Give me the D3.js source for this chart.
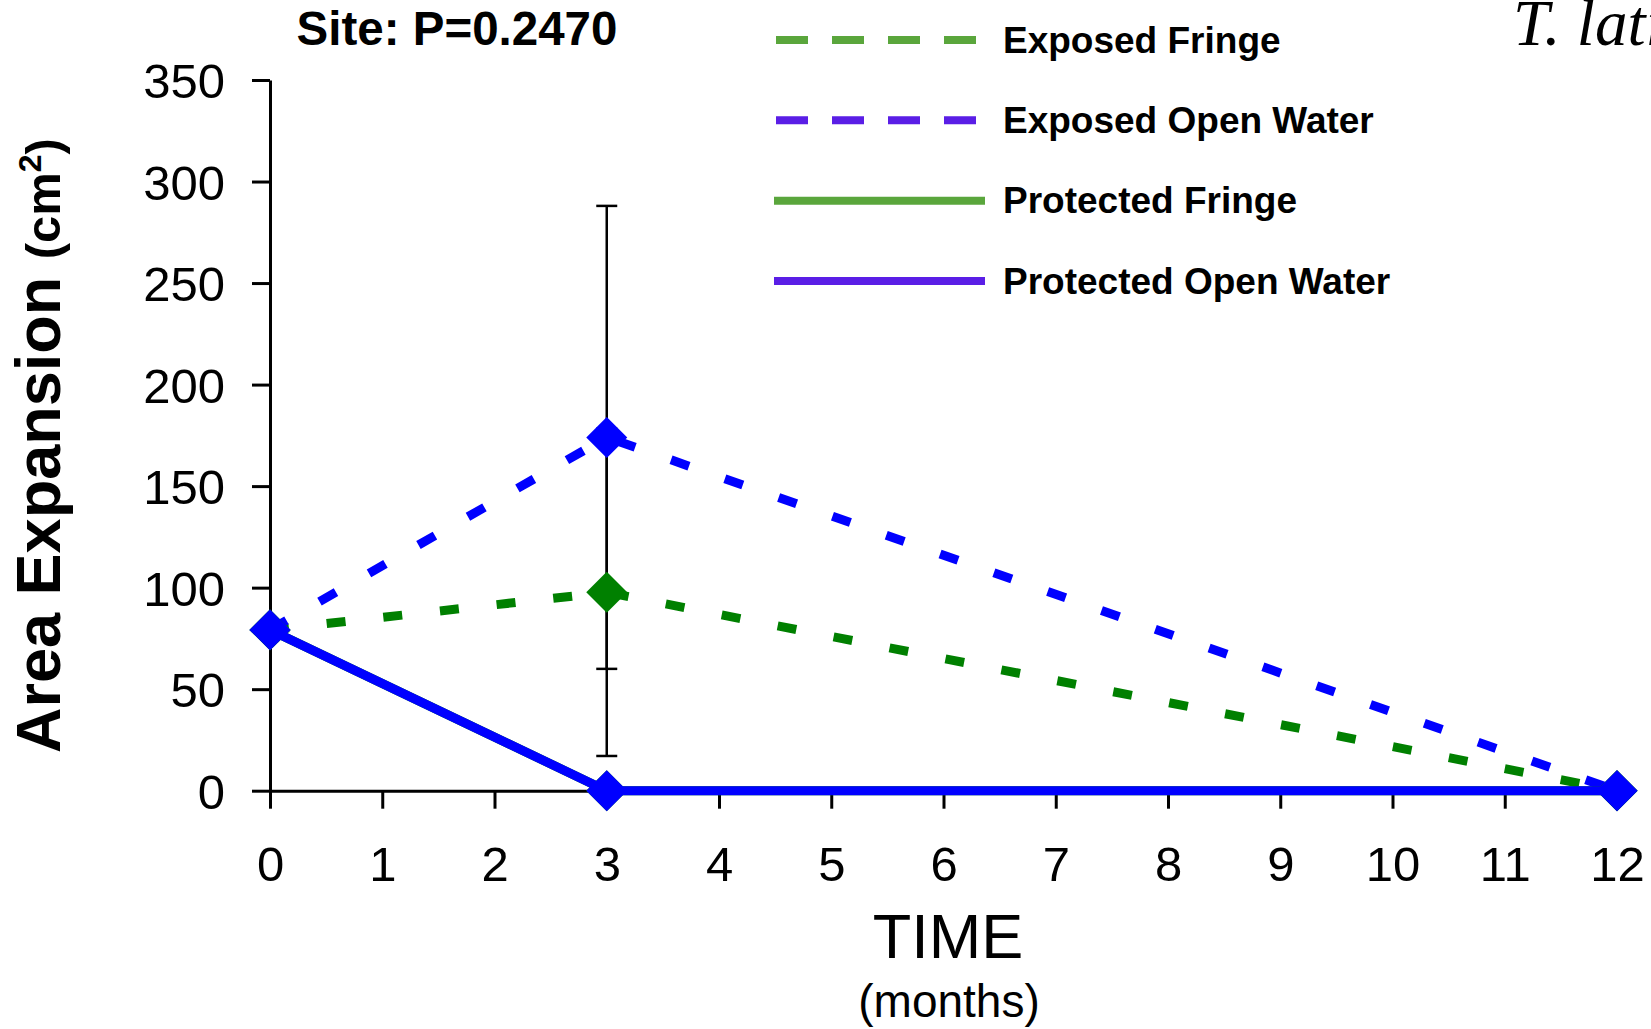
<!DOCTYPE html>
<html lang="en">
<head>
<title>Area expansion over time</title>
<meta charset="utf-8">
<script src="https://d3js.org/d3.v7.min.js"></script>
<style type="text/css">
body {
	margin: 0;
	background: #fff;
	font-family: "Liberation Sans", Arial, sans-serif;
}
#vis svg {
	display: block;
}
</style>
</head>
<body>

<div id="vis"></div>

<script>

/* Data */
/* ==== */

var months = [0, 3, 12];
var xTicks = [0, 1, 2, 3, 4, 5, 6, 7, 8, 9, 10, 11, 12];
var yTicks = [0, 50, 100, 150, 200, 250, 300, 350];

var seriesNames = ['Exposed Fringe', 'Exposed Open Water', 'Protected Fringe', 'Protected Open Water'];
var exposedFringe = [79.2, 97.7, 0];
var exposedOpenWater = [79.2, 174, 0];
var protectedFringe = [79.2, 0, 0];
var protectedOpenWater = [79.2, 0, 0];

// standard errors (only shown at month 3)
var exposedFringeErr = [null, 80.6, null];
var exposedOpenWaterErr = [null, 114, null];

var titleText = 'Site: P=0.2470';
var speciesText = 'T. latifolia';


/* Globals and SVG */
/* =============== */

var width = 1651,
		height = 1029;

var svg = d3.select('#vis')
	.append('svg')
		.attr('width', width)
		.attr('height', height);

var x = d3.scaleLinear().domain([0, 12]).range([270, 1617]);
var y = d3.scaleLinear().domain([0, 350]).range([790.7, 80]);

var styles = {
	'Exposed Fringe':       { line: '#008000', marker: '#008000', legend: '#5aa63c', dash: '19 38', legendDash: '32 24' },
	'Exposed Open Water':   { line: '#0000ff', marker: '#0000ff', legend: '#5a1ee6', dash: '19 38', legendDash: '32 24' },
	'Protected Fringe':     { line: '#008000', marker: '#008000', legend: '#5aa63c', dash: null, legendDash: null },
	'Protected Open Water': { line: '#0000ff', marker: '#0000ff', legend: '#5a1ee6', dash: null, legendDash: null }
};

var series = [
	{ name: seriesNames[0], values: exposedFringe, err: exposedFringeErr },
	{ name: seriesNames[1], values: exposedOpenWater, err: exposedOpenWaterErr },
	{ name: seriesNames[2], values: protectedFringe, err: null },
	{ name: seriesNames[3], values: protectedOpenWater, err: null }
];


/* Axes */
/* ==== */

var xAxis = svg.append('g')
	.attr('transform', 'translate(0,' + y(0) + ')')
	.call(d3.axisBottom(x).tickValues(xTicks).tickSize(18).tickSizeOuter(0).tickPadding(36));

var yAxis = svg.append('g')
	.attr('transform', 'translate(' + x(0) + ',0)')
	.call(d3.axisLeft(y).tickValues(yTicks).tickSize(18).tickSizeOuter(0).tickPadding(27));

[xAxis, yAxis].forEach(function(a) {
	a.selectAll('path, line').attr('stroke', '#000').attr('stroke-width', 3);
	a.selectAll('text')
		.attr('fill', '#000')
		.style('font-family', '"Liberation Sans", Arial, sans-serif')
		.style('font-size', '49px');
});
xAxis.selectAll('text').attr('dy', null).attr('y', 90);
yAxis.selectAll('text').attr('dy', '0.36em');


/* Error bars */
/* ========== */

var errs = [];
series.forEach(function(s) {
	if (!s.err) return;
	s.err.forEach(function(e, i) {
		if (e == null) return;
		errs.push({ t: months[i], lo: s.values[i] - e, hi: s.values[i] + e });
	});
});

var eb = svg.append('g').attr('stroke', '#000').attr('stroke-width', 2.5);
errs.forEach(function(d) {
	eb.append('line').attr('x1', x(d.t)).attr('x2', x(d.t)).attr('y1', y(d.lo)).attr('y2', y(d.hi));
	[d.lo, d.hi].forEach(function(v) {
		eb.append('line').attr('x1', x(d.t) - 10.5).attr('x2', x(d.t) + 10.5).attr('y1', y(v)).attr('y2', y(v));
	});
});


/* Lines and markers */
/* ================= */

var line = d3.line()
	.x(function(d, i) { return x(months[i]); })
	.y(function(d) { return y(d); });

var diamond = d3.symbol().type(d3.symbolSquare).size(840);

series.forEach(function(s) {
	var st = styles[s.name];
	svg.append('path')
		.datum(s.values)
		.attr('d', line)
		.attr('fill', 'none')
		.attr('stroke', st.line)
		.attr('stroke-width', 9)
		.attr('stroke-dasharray', st.dash);

	svg.append('g').selectAll('path')
		.data(s.values)
		.join('path')
			.attr('d', diamond)
			.attr('transform', function(d, i) { return 'translate(' + x(months[i]) + ',' + y(d) + ') rotate(45)'; })
			.attr('fill', st.marker);
});


/* Legend */
/* ====== */

var legendY = d3.scalePoint().domain(seriesNames).range([40, 281]);

var legend = svg.append('g').selectAll('g')
	.data(seriesNames)
	.join('g')
		.attr('transform', function(d) { return 'translate(0,' + legendY(d) + ')'; });

legend.append('line')
	.attr('x1', function(d) { return styles[d].legendDash ? 776 : 774; })
	.attr('x2', function(d) { return styles[d].legendDash ? 976 : 985; })
	.attr('stroke', function(d) { return styles[d].legend; })
	.attr('stroke-width', 8)
	.attr('stroke-dasharray', function(d) { return styles[d].legendDash; });

legend.append('text')
	.attr('x', 1003)
	.attr('y', 12.5)
	.style('font-weight', 'bold')
	.style('font-size', '37px')
	.text(function(d) { return d; });


/* Titles */
/* ====== */

svg.append('text')
	.attr('x', 457)
	.attr('y', 45)
	.attr('text-anchor', 'middle')
	.style('font-weight', 'bold')
	.style('font-size', '47.5px')
	.text(titleText);

svg.append('text')
	.attr('x', 1513)
	.attr('y', 45)
	.style('font-family', '"Liberation Serif", serif')
	.style('font-style', 'italic')
	.style('font-size', '65px')
	.text(speciesText);

var yTitle = svg.append('text')
	.attr('transform', 'translate(60,' + 753 + ') rotate(-90)')
	.style('font-weight', 'bold')
	.style('font-size', '63px');
yTitle.append('tspan').text('Area Expansion ');
yTitle.append('tspan').style('font-size', '49px').text('(cm');
yTitle.append('tspan').style('font-size', '32px').attr('dy', -19).text('2');
yTitle.append('tspan').style('font-size', '49px').attr('dy', 19).text(')');

svg.append('text')
	.attr('x', 948)
	.attr('y', 958)
	.attr('text-anchor', 'middle')
	.style('font-size', '63px')
	.text('TIME');

svg.append('text')
	.attr('x', 949)
	.attr('y', 1017)
	.attr('text-anchor', 'middle')
	.style('font-size', '46px')
	.text('(months)');

</script>
</body>
</html>
